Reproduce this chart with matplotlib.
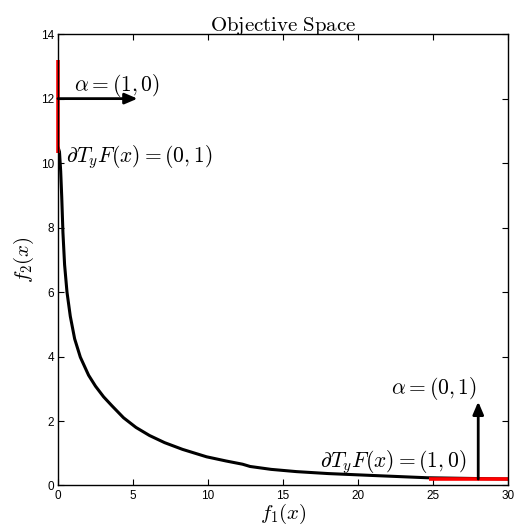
import matplotlib
matplotlib.use("Agg")
import matplotlib.pyplot as plt

plt.rcParams['mathtext.fontset'] = 'cm'
plt.rcParams['font.family'] = ['Liberation Sans', 'DejaVu Sans']

# Pareto front in objective space
f1 = [0.0, 0.1, 0.18, 0.25, 0.33, 0.44, 0.6, 0.82, 1.11, 1.49, 2.04, 2.5,
      3.04, 3.6, 4.37, 5.2, 6.1, 7.1, 8.3, 9.9, 11.2, 12.3, 12.8, 14.2,
      15.9, 18.0, 21.0, 24.6, 30.0]
f2 = [10.5, 10.35, 9.75, 8.95, 7.85, 6.85, 6.0, 5.25, 4.55, 3.98, 3.42, 3.08,
      2.75, 2.47, 2.1, 1.8, 1.55, 1.33, 1.12, 0.89, 0.76, 0.66, 0.59, 0.5,
      0.43, 0.37, 0.31, 0.24, 0.2]

# tangent cone pieces (red) at both ends of the front
edge_v_x = [0.0, 0.0]
edge_v_y = [10.3, 13.2]
edge_h_x = [24.7, 30.0]
edge_h_y = [0.2, 0.2]

# weight vectors drawn as arrows: (tail, head)
arrow_a = ((0.0, 12.0), (5.3, 12.0))
arrow_b = ((28.0, 0.2), (28.0, 2.6))

xticks = [0, 5, 10, 15, 20, 25, 30]
yticks = [0, 2, 4, 6, 8, 10, 12, 14]

fig = plt.figure(figsize=(5.14, 5.31), dpi=100)
ax = fig.add_axes([0.1128, 0.0857, 0.876, 0.850])

ax.plot(f1, f2, color='black', lw=2.2, solid_joinstyle='round', solid_capstyle='butt')
ax.plot(edge_v_x, edge_v_y, color='red', lw=2.6, solid_capstyle='butt', clip_on=False)
ax.plot(edge_h_x, edge_h_y, color='red', lw=2.6, solid_capstyle='butt', clip_on=False)

for tail, head in (arrow_a, arrow_b):
    ax.annotate('', xy=head, xytext=tail,
                arrowprops=dict(arrowstyle='-|>,head_length=0.75,head_width=0.32',
                                color='black', lw=2.0, shrinkA=0, shrinkB=0))

ax.text(1.1, 12.4, r'$\alpha = (1,0)$', fontsize=15.5, ha='left', va='center')
ax.text(0.55, 10.2, r'$\partial T_yF(x) = (0,1)$', fontsize=15.5, ha='left', va='center')
ax.text(27.9, 3.0, r'$\alpha = (0,1)$', fontsize=15.5, ha='right', va='center')
ax.text(27.2, 0.74, r'$\partial T_yF(x) = (1,0)$', fontsize=15.5, ha='right', va='center')

ax.set_xlim(0, 30)
ax.set_ylim(0, 14)
ax.set_xticks(xticks)
ax.set_yticks(yticks)
ax.tick_params(direction='in', length=4, width=0.8, labelsize=8.5,
               top=True, right=True, pad=3)
for s in ax.spines.values():
    s.set_linewidth(1.0)

ax.set_title(r'$\mathrm{Objective\ Space}$', fontsize=15, pad=2)
ax.set_xlabel(r'$f_1(x)$', fontsize=15, labelpad=0)
ax.set_ylabel(r'$f_2(x)$', fontsize=15, labelpad=3)

fig.savefig('out.png', dpi=100)
